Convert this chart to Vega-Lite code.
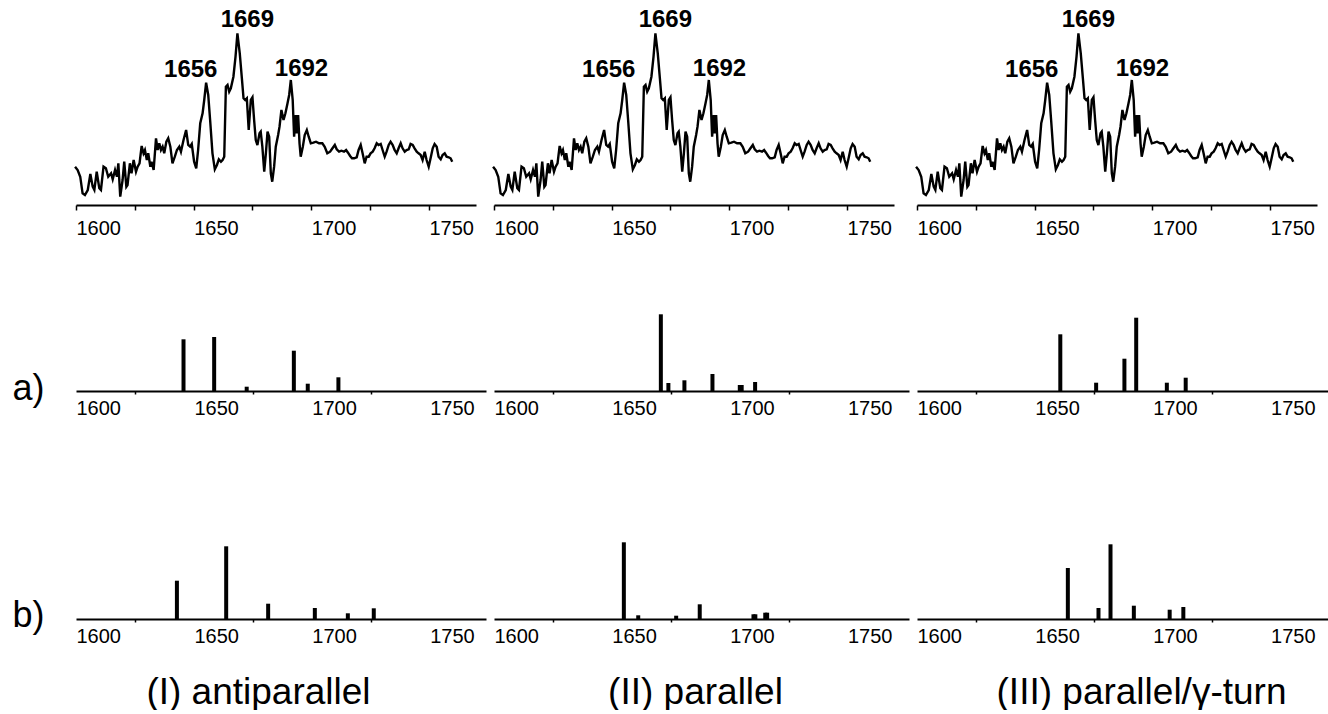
{
  "$schema": "https://vega.github.io/schema/vega-lite/v6.json",
  "background": "white",
  "padding": {"left": 12, "top": 0, "right": 0, "bottom": 0},
  "config": {
    "view": {"stroke": null},
    "axis": {"labelFont": "Liberation Sans", "titleFont": "Liberation Sans", "labelColor": "black", "titleColor": "black", "domainColor": "black", "tickColor": "black", "grid": false},
    "text": {"font": "Liberation Sans", "color": "black"}
  },
  "datasets": {
    "spectrum": [
      {"wn":1599.6,"int":38.3},{"wn":1600.7,"int":35},{"wn":1601.8,"int":28.3},{"wn":1602.8,"int":11.7},{"wn":1603.8,"int":10},{"wn":1605.0,"int":15},{"wn":1606.1,"int":31},{"wn":1607.1,"int":18.3},{"wn":1607.8,"int":15},{"wn":1608.8,"int":33.3},
      {"wn":1609.9,"int":16.7},{"wn":1610.6,"int":15},{"wn":1611.7,"int":38.3},{"wn":1612.7,"int":36.7},{"wn":1613.7,"int":28.3},{"wn":1614.9,"int":31.7},{"wn":1615.6,"int":25.7},{"wn":1616.6,"int":35},{"wn":1617.4,"int":28.3},{"wn":1618.0,"int":41.7},
      {"wn":1618.8,"int":8.3},{"wn":1619.8,"int":25},{"wn":1620.5,"int":43.3},{"wn":1621.4,"int":18.3},{"wn":1621.9,"int":20},{"wn":1622.9,"int":41.7},{"wn":1623.6,"int":31.7},{"wn":1624.5,"int":45},{"wn":1625.5,"int":33.3},{"wn":1626.2,"int":38.3},
      {"wn":1627.0,"int":41.7},{"wn":1627.9,"int":59},{"wn":1628.7,"int":51.7},{"wn":1629.3,"int":55},{"wn":1630.1,"int":45},{"wn":1630.7,"int":51.7},{"wn":1631.6,"int":38.3},{"wn":1632.1,"int":43.3},{"wn":1633.0,"int":35},{"wn":1634.0,"int":66.7},
      {"wn":1634.7,"int":55},{"wn":1635.4,"int":61.7},{"wn":1636.1,"int":55},{"wn":1636.8,"int":58.3},{"wn":1637.5,"int":51.7},{"wn":1638.4,"int":63.3},{"wn":1639.2,"int":66.7},{"wn":1640.1,"int":58.3},{"wn":1641.0,"int":41.7},{"wn":1642.0,"int":48.3},
      {"wn":1642.9,"int":55},{"wn":1643.9,"int":58.3},{"wn":1644.6,"int":53.3},{"wn":1645.7,"int":65},{"wn":1646.8,"int":75},{"wn":1647.7,"int":60},{"wn":1648.5,"int":58.3},{"wn":1649.2,"int":61},{"wn":1650.2,"int":43.3},{"wn":1651.1,"int":36.7},
      {"wn":1651.9,"int":55},{"wn":1652.8,"int":81.7},{"wn":1653.8,"int":91.7},{"wn":1654.5,"int":105},{"wn":1655.3,"int":122.3},{"wn":1656.2,"int":110},{"wn":1657.0,"int":85},{"wn":1658.0,"int":51.7},{"wn":1659.0,"int":35.7},{"wn":1659.9,"int":40},
      {"wn":1660.7,"int":45.7},{"wn":1661.6,"int":43.3},{"wn":1662.3,"int":45},{"wn":1663.0,"int":48.3},{"wn":1663.7,"int":118.3},{"wn":1664.4,"int":120},{"wn":1665.1,"int":113.3},{"wn":1665.8,"int":116.7},{"wn":1666.9,"int":128.3},{"wn":1667.8,"int":148.3},
      {"wn":1668.6,"int":171.7},{"wn":1669.6,"int":151.7},{"wn":1670.5,"int":126.7},{"wn":1671.2,"int":106.7},{"wn":1671.9,"int":105},{"wn":1672.6,"int":106.7},{"wn":1673.4,"int":75},{"wn":1674.3,"int":105},{"wn":1675.0,"int":107.7},{"wn":1675.7,"int":85},
      {"wn":1676.4,"int":65},{"wn":1677.1,"int":60},{"wn":1678.0,"int":71.7},{"wn":1678.5,"int":73.3},{"wn":1679.2,"int":58.3},{"wn":1680.0,"int":33.3},{"wn":1680.7,"int":51.7},{"wn":1681.4,"int":73.3},{"wn":1682.1,"int":68.3},{"wn":1682.8,"int":31.7},
      {"wn":1683.4,"int":23.3},{"wn":1684.2,"int":38.3},{"wn":1684.9,"int":58.3},{"wn":1685.9,"int":70},{"wn":1686.5,"int":78.3},{"wn":1687.3,"int":95},{"wn":1688.2,"int":85},{"wn":1689.0,"int":91.7},{"wn":1689.9,"int":101.7},{"wn":1690.6,"int":110},
      {"wn":1691.3,"int":125},{"wn":1692.1,"int":105},{"wn":1692.7,"int":68.3},{"wn":1693.4,"int":90},{"wn":1693.8,"int":71.7},{"wn":1694.4,"int":90},{"wn":1695.0,"int":61.7},{"wn":1695.5,"int":48.3},{"wn":1696.4,"int":58.3},{"wn":1697.2,"int":70},
      {"wn":1698.1,"int":75},{"wn":1698.9,"int":68.3},{"wn":1699.8,"int":61.7},{"wn":1700.9,"int":62.3},{"wn":1702.0,"int":63.3},{"wn":1703.3,"int":61.7},{"wn":1704.7,"int":61.7},{"wn":1705.7,"int":58.3},{"wn":1706.8,"int":51.7},{"wn":1708.0,"int":53.3},
      {"wn":1709.0,"int":56.7},{"wn":1710.0,"int":60},{"wn":1710.8,"int":55.7},{"wn":1711.8,"int":53.3},{"wn":1712.8,"int":54.3},{"wn":1713.9,"int":53.3},{"wn":1714.8,"int":55},{"wn":1715.6,"int":52.3},{"wn":1716.5,"int":49},{"wn":1717.3,"int":46.7},
      {"wn":1718.2,"int":46.7},{"wn":1719.3,"int":47.7},{"wn":1720.1,"int":55},{"wn":1721.0,"int":60},{"wn":1721.8,"int":51.7},{"wn":1722.7,"int":41.7},{"wn":1723.5,"int":48.3},{"wn":1724.4,"int":48.3},{"wn":1725.2,"int":51.7},{"wn":1726.1,"int":53.3},
      {"wn":1726.9,"int":56.7},{"wn":1727.8,"int":61.7},{"wn":1728.6,"int":60},{"wn":1729.5,"int":61},{"wn":1730.3,"int":55},{"wn":1731.2,"int":48.3},{"wn":1732.0,"int":53.3},{"wn":1732.9,"int":60},{"wn":1733.7,"int":63.3},{"wn":1734.6,"int":60},
      {"wn":1735.4,"int":55},{"wn":1736.3,"int":51.7},{"wn":1737.1,"int":56.7},{"wn":1738.0,"int":61.7},{"wn":1738.8,"int":56.7},{"wn":1739.7,"int":53.3},{"wn":1740.5,"int":55},{"wn":1741.4,"int":55.7},{"wn":1742.2,"int":61},{"wn":1743.1,"int":60},
      {"wn":1743.9,"int":56.7},{"wn":1744.8,"int":53.3},{"wn":1745.6,"int":51.7},{"wn":1746.5,"int":50},{"wn":1747.3,"int":45},{"wn":1748.2,"int":53.3},{"wn":1749.0,"int":45},{"wn":1749.9,"int":38.3},{"wn":1750.7,"int":46.7},{"wn":1751.6,"int":56.7},
      {"wn":1752.4,"int":61},{"wn":1753.3,"int":58.3},{"wn":1754.1,"int":48.3},{"wn":1755.0,"int":45.7},{"wn":1755.8,"int":50},{"wn":1756.7,"int":51.7},{"wn":1757.5,"int":48.3},{"wn":1758.4,"int":47.7},{"wn":1759.2,"int":46.7},{"wn":1759.9,"int":43.3}
    ],
    "peaks": [
      {"wn":1656,"int":122,"label":"1656"},
      {"wn":1669,"int":172,"label":"1669"},
      {"wn":1692,"int":125,"label":"1692"}
    ],
    "sticks": [
      {"panel":"a1","wn":1645.6,"int":51.7},{"panel":"a1","wn":1658.6,"int":54},{"panel":"a1","wn":1672.4,"int":4.3},{"panel":"a1","wn":1692.4,"int":40.3},{"panel":"a1","wn":1698.3,"int":7.3},{"panel":"a1","wn":1711.3,"int":13.7},
      {"panel":"a2","wn":1670.8,"int":76.7},{"panel":"a2","wn":1674.0,"int":8},{"panel":"a2","wn":1680.8,"int":10.7},{"panel":"a2","wn":1692.7,"int":17},{"panel":"a2","wn":1704.3,"int":6},{"panel":"a2","wn":1705.1,"int":6},{"panel":"a2","wn":1710.8,"int":9},
      {"panel":"a3","wn":1660.8,"int":56.7},{"panel":"a3","wn":1676.0,"int":8.3},{"panel":"a3","wn":1688.0,"int":32.3},{"panel":"a3","wn":1693.0,"int":73.3},{"panel":"a3","wn":1706.0,"int":8.3},{"panel":"a3","wn":1714.0,"int":13.3},
      {"panel":"b1","wn":1642.8,"int":38.3},{"panel":"b1","wn":1663.7,"int":72.7},{"panel":"b1","wn":1681.5,"int":15.3},{"panel":"b1","wn":1701.3,"int":11},{"panel":"b1","wn":1715.3,"int":5.7},{"panel":"b1","wn":1726.3,"int":10.7},
      {"panel":"b2","wn":1655.1,"int":76.7},{"panel":"b2","wn":1661.2,"int":3.7},{"panel":"b2","wn":1677.3,"int":3.3},{"panel":"b2","wn":1687.3,"int":14.7},{"panel":"b2","wn":1710.1,"int":4.7},{"panel":"b2","wn":1710.9,"int":4.7},{"panel":"b2","wn":1715.1,"int":6.3},{"panel":"b2","wn":1715.9,"int":6.3},
      {"panel":"b3","wn":1664.0,"int":51},{"panel":"b3","wn":1677.0,"int":11},{"panel":"b3","wn":1682.1,"int":74.7},{"panel":"b3","wn":1692.0,"int":13.3},{"panel":"b3","wn":1707.2,"int":9.3},{"panel":"b3","wn":1713.0,"int":12}
    ]
  },
  "bounds": "flush",
  "align": "each",
  "columns": 3,
  "spacing": {"row": 10, "column": 8},
  "concat": [
    {
      "width": 400, "height": 205,
      "layer": [
        {"data": {"name": "spectrum"}, "mark": {"type": "line", "color": "black", "strokeWidth": 2.4, "clip": false},
         "encoding": {"x": {"field": "wn", "type": "quantitative", "scale": {"domain": [1600, 1770], "nice": false, "zero": false},
           "axis": {"values": [1600,1625,1650,1675,1700,1725,1750], "format": "d", "labelExpr": "datum.value % 50 === 0 ? datum.label : ''", "title": null, "domainWidth": 2, "tickWidth": 1.5, "tickSize": 5, "labelPadding": 8, "labelAlign": "left", "labelDx": -6, "labelFontSize": 20, "labelOverlap": false, "labelFlush": false, "labelBound": false}},
           "y": {"field": "int", "type": "quantitative", "scale": {"domain": [0, 205], "nice": false}, "axis": null}}},
        {"data": {"name": "peaks"}, "transform": [{"filter": "datum.label === '1656'"}], "mark": {"type": "text", "dx": -17, "dy": -6, "fontSize": 24, "fontWeight": "bold", "baseline": "alphabetic"},
         "encoding": {"x": {"field": "wn", "type": "quantitative"}, "y": {"field": "int", "type": "quantitative"}, "text": {"field": "label"}}},
        {"data": {"name": "peaks"}, "transform": [{"filter": "datum.label === '1669'"}], "mark": {"type": "text", "dx": 9, "dy": -6, "fontSize": 24, "fontWeight": "bold", "baseline": "alphabetic"},
         "encoding": {"x": {"field": "wn", "type": "quantitative"}, "y": {"field": "int", "type": "quantitative"}, "text": {"field": "label"}}},
        {"data": {"name": "peaks"}, "transform": [{"filter": "datum.label === '1692'"}], "mark": {"type": "text", "dx": 9, "dy": -4, "fontSize": 24, "fontWeight": "bold", "baseline": "alphabetic"},
         "encoding": {"x": {"field": "wn", "type": "quantitative"}, "y": {"field": "int", "type": "quantitative"}, "text": {"field": "label"}}}
      ]
    },
    {
      "width": 400, "height": 205,
      "layer": [
        {"data": {"name": "spectrum"}, "mark": {"type": "line", "color": "black", "strokeWidth": 2.4, "clip": false},
         "encoding": {"x": {"field": "wn", "type": "quantitative", "scale": {"domain": [1600, 1770], "nice": false, "zero": false},
           "axis": {"values": [1600,1625,1650,1675,1700,1725,1750], "format": "d", "labelExpr": "datum.value % 50 === 0 ? datum.label : ''", "title": null, "domainWidth": 2, "tickWidth": 1.5, "tickSize": 5, "labelPadding": 8, "labelAlign": "left", "labelDx": -6, "labelFontSize": 20, "labelOverlap": false, "labelFlush": false, "labelBound": false}},
           "y": {"field": "int", "type": "quantitative", "scale": {"domain": [0, 205], "nice": false}, "axis": null}}},
        {"data": {"name": "peaks"}, "transform": [{"filter": "datum.label === '1656'"}], "mark": {"type": "text", "dx": -17, "dy": -6, "fontSize": 24, "fontWeight": "bold", "baseline": "alphabetic"},
         "encoding": {"x": {"field": "wn", "type": "quantitative"}, "y": {"field": "int", "type": "quantitative"}, "text": {"field": "label"}}},
        {"data": {"name": "peaks"}, "transform": [{"filter": "datum.label === '1669'"}], "mark": {"type": "text", "dx": 9, "dy": -6, "fontSize": 24, "fontWeight": "bold", "baseline": "alphabetic"},
         "encoding": {"x": {"field": "wn", "type": "quantitative"}, "y": {"field": "int", "type": "quantitative"}, "text": {"field": "label"}}},
        {"data": {"name": "peaks"}, "transform": [{"filter": "datum.label === '1692'"}], "mark": {"type": "text", "dx": 9, "dy": -4, "fontSize": 24, "fontWeight": "bold", "baseline": "alphabetic"},
         "encoding": {"x": {"field": "wn", "type": "quantitative"}, "y": {"field": "int", "type": "quantitative"}, "text": {"field": "label"}}}
      ]
    },
    {
      "width": 400, "height": 205,
      "layer": [
        {"data": {"name": "spectrum"}, "mark": {"type": "line", "color": "black", "strokeWidth": 2.4, "clip": false},
         "encoding": {"x": {"field": "wn", "type": "quantitative", "scale": {"domain": [1600, 1770], "nice": false, "zero": false},
           "axis": {"values": [1600,1625,1650,1675,1700,1725,1750], "format": "d", "labelExpr": "datum.value % 50 === 0 ? datum.label : ''", "title": null, "domainWidth": 2, "tickWidth": 1.5, "tickSize": 5, "labelPadding": 8, "labelAlign": "left", "labelDx": -6, "labelFontSize": 20, "labelOverlap": false, "labelFlush": false, "labelBound": false}},
           "y": {"field": "int", "type": "quantitative", "scale": {"domain": [0, 205], "nice": false}, "axis": null}}},
        {"data": {"name": "peaks"}, "transform": [{"filter": "datum.label === '1656'"}], "mark": {"type": "text", "dx": -17, "dy": -6, "fontSize": 24, "fontWeight": "bold", "baseline": "alphabetic"},
         "encoding": {"x": {"field": "wn", "type": "quantitative"}, "y": {"field": "int", "type": "quantitative"}, "text": {"field": "label"}}},
        {"data": {"name": "peaks"}, "transform": [{"filter": "datum.label === '1669'"}], "mark": {"type": "text", "dx": 9, "dy": -6, "fontSize": 24, "fontWeight": "bold", "baseline": "alphabetic"},
         "encoding": {"x": {"field": "wn", "type": "quantitative"}, "y": {"field": "int", "type": "quantitative"}, "text": {"field": "label"}}},
        {"data": {"name": "peaks"}, "transform": [{"filter": "datum.label === '1692'"}], "mark": {"type": "text", "dx": 9, "dy": -4, "fontSize": 24, "fontWeight": "bold", "baseline": "alphabetic"},
         "encoding": {"x": {"field": "wn", "type": "quantitative"}, "y": {"field": "int", "type": "quantitative"}, "text": {"field": "label"}}}
      ]
    },
    {
      "width": 410, "height": 176,
      "data": {"name": "sticks"},
      "transform": [{"filter": "datum.panel === 'a1'"}],
      "mark": {"type": "rule", "color": "black", "strokeWidth": 4},
      "encoding": {
        "x": {"field": "wn", "type": "quantitative", "scale": {"domain": [1600, 1773.9], "nice": false, "zero": false},
          "axis": {"values": [1600,1625,1650,1675,1700,1725,1750], "format": "d", "labelExpr": "datum.value % 50 === 0 ? datum.label : ''", "title": null, "domainWidth": 2, "tickWidth": 1.5, "tickSize": 3, "tickOpacity": {"condition": {"test": "datum.value % 50 === 0", "value": 0}, "value": 1}, "labelPadding": 4.5, "labelAlign": "left", "labelDx": -6, "labelFontSize": 20, "labelOverlap": false, "labelFlush": false, "labelBound": false}},
        "y": {"field": "int", "type": "quantitative", "scale": {"domain": [0, 176], "nice": false},
          "axis": {"title": "a)", "titleAngle": 0, "titleX": -64, "titleY": 184, "titleAlign": "left", "titleBaseline": "alphabetic", "titleFontSize": 36, "titleFontWeight": "normal", "domain": false, "ticks": false, "labels": false, "grid": false}},
        "y2": {"datum": 0}
      }
    },
    {
      "width": 415, "height": 176,
      "data": {"name": "sticks"},
      "transform": [{"filter": "datum.panel === 'a2'"}],
      "mark": {"type": "rule", "color": "black", "strokeWidth": 4},
      "encoding": {
        "x": {"field": "wn", "type": "quantitative", "scale": {"domain": [1600, 1776.1], "nice": false, "zero": false},
          "axis": {"values": [1600,1625,1650,1675,1700,1725,1750], "format": "d", "labelExpr": "datum.value % 50 === 0 ? datum.label : ''", "title": null, "domainWidth": 2, "tickWidth": 1.5, "tickSize": 3, "tickOpacity": {"condition": {"test": "datum.value % 50 === 0", "value": 0}, "value": 1}, "labelPadding": 4.5, "labelAlign": "left", "labelDx": -6, "labelFontSize": 20, "labelOverlap": false, "labelFlush": false, "labelBound": false}},
        "y": {"field": "int", "type": "quantitative", "scale": {"domain": [0, 176], "nice": false}, "axis": null},
        "y2": {"datum": 0}
      }
    },
    {
      "width": 412, "height": 176,
      "data": {"name": "sticks"},
      "transform": [{"filter": "datum.panel === 'a3'"}],
      "mark": {"type": "rule", "color": "black", "strokeWidth": 4},
      "encoding": {
        "x": {"field": "wn", "type": "quantitative", "scale": {"domain": [1600, 1774.8], "nice": false, "zero": false},
          "axis": {"values": [1600,1625,1650,1675,1700,1725,1750], "format": "d", "labelExpr": "datum.value % 50 === 0 ? datum.label : ''", "title": null, "domainWidth": 2, "tickWidth": 1.5, "tickSize": 3, "tickOpacity": {"condition": {"test": "datum.value % 50 === 0", "value": 0}, "value": 1}, "labelPadding": 4.5, "labelAlign": "left", "labelDx": -6, "labelFontSize": 20, "labelOverlap": false, "labelFlush": false, "labelBound": false}},
        "y": {"field": "int", "type": "quantitative", "scale": {"domain": [0, 176], "nice": false}, "axis": null},
        "y2": {"datum": 0}
      }
    },
    {
      "width": 410, "height": 218,
      "data": {"name": "sticks"},
      "transform": [{"filter": "datum.panel === 'b1'"}],
      "mark": {"type": "rule", "color": "black", "strokeWidth": 4},
      "encoding": {
        "x": {"field": "wn", "type": "quantitative", "scale": {"domain": [1600, 1773.9], "nice": false, "zero": false},
          "axis": {"values": [1600,1625,1650,1675,1700,1725,1750], "format": "d", "labelExpr": "datum.value % 50 === 0 ? datum.label : ''", "title": "(I) antiparallel", "titleX": 182, "titleY": 84, "titleAlign": "center", "titleBaseline": "alphabetic", "titleFontSize": 37, "titleFontWeight": "normal", "domainWidth": 2, "tickWidth": 1.5, "tickSize": 3, "tickOpacity": {"condition": {"test": "datum.value % 50 === 0", "value": 0}, "value": 1}, "labelPadding": 4.5, "labelAlign": "left", "labelDx": -6, "labelFontSize": 20, "labelOverlap": false, "labelFlush": false, "labelBound": false}},
        "y": {"field": "int", "type": "quantitative", "scale": {"domain": [0, 218], "nice": false},
          "axis": {"title": "b)", "titleAngle": 0, "titleX": -64, "titleY": 225, "titleAlign": "left", "titleBaseline": "alphabetic", "titleFontSize": 36, "titleFontWeight": "normal", "domain": false, "ticks": false, "labels": false, "grid": false}},
        "y2": {"datum": 0}
      }
    },
    {
      "width": 415, "height": 218,
      "data": {"name": "sticks"},
      "transform": [{"filter": "datum.panel === 'b2'"}],
      "mark": {"type": "rule", "color": "black", "strokeWidth": 4},
      "encoding": {
        "x": {"field": "wn", "type": "quantitative", "scale": {"domain": [1600, 1776.1], "nice": false, "zero": false},
          "axis": {"values": [1600,1625,1650,1675,1700,1725,1750], "format": "d", "labelExpr": "datum.value % 50 === 0 ? datum.label : ''", "title": "(II) parallel", "titleX": 201, "titleY": 84, "titleAlign": "center", "titleBaseline": "alphabetic", "titleFontSize": 37, "titleFontWeight": "normal", "domainWidth": 2, "tickWidth": 1.5, "tickSize": 3, "tickOpacity": {"condition": {"test": "datum.value % 50 === 0", "value": 0}, "value": 1}, "labelPadding": 4.5, "labelAlign": "left", "labelDx": -6, "labelFontSize": 20, "labelOverlap": false, "labelFlush": false, "labelBound": false}},
        "y": {"field": "int", "type": "quantitative", "scale": {"domain": [0, 218], "nice": false}, "axis": null},
        "y2": {"datum": 0}
      }
    },
    {
      "width": 412, "height": 218,
      "data": {"name": "sticks"},
      "transform": [{"filter": "datum.panel === 'b3'"}],
      "mark": {"type": "rule", "color": "black", "strokeWidth": 4},
      "encoding": {
        "x": {"field": "wn", "type": "quantitative", "scale": {"domain": [1600, 1774.8], "nice": false, "zero": false},
          "axis": {"values": [1600,1625,1650,1675,1700,1725,1750], "format": "d", "labelExpr": "datum.value % 50 === 0 ? datum.label : ''", "title": "(III) parallel/γ-turn", "titleX": 224, "titleY": 84, "titleAlign": "center", "titleBaseline": "alphabetic", "titleFontSize": 37, "titleFontWeight": "normal", "domainWidth": 2, "tickWidth": 1.5, "tickSize": 3, "tickOpacity": {"condition": {"test": "datum.value % 50 === 0", "value": 0}, "value": 1}, "labelPadding": 4.5, "labelAlign": "left", "labelDx": -6, "labelFontSize": 20, "labelOverlap": false, "labelFlush": false, "labelBound": false}},
        "y": {"field": "int", "type": "quantitative", "scale": {"domain": [0, 218], "nice": false}, "axis": null},
        "y2": {"datum": 0}
      }
    }
  ]
}
